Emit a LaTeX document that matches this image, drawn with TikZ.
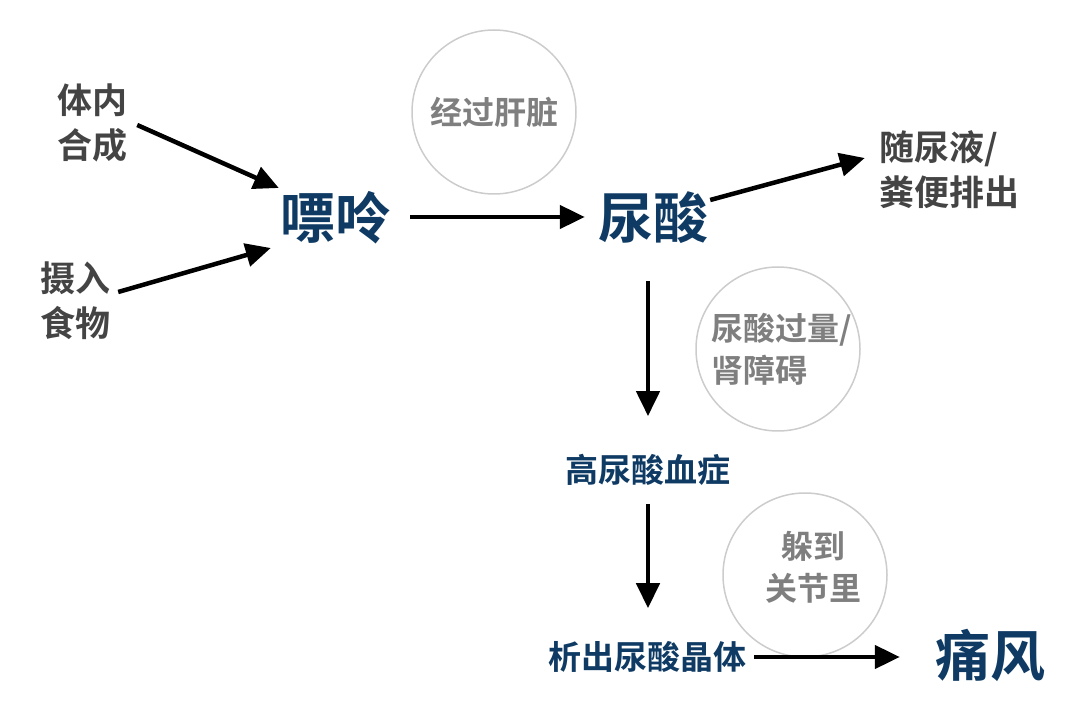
\documentclass[tikz,border=0pt]{standalone}
\usepackage{fontspec}
\setmainfont{Noto Sans CJK SC}[BoldFont={Noto Sans CJK SC Bold}]
\usetikzlibrary{arrows.meta,calc}
\definecolor{navy}{HTML}{0E3A63}
\definecolor{ink}{HTML}{444444}
\definecolor{soft}{HTML}{7F7F7F}
\definecolor{ring}{HTML}{CCCCCC}
\tikzset{
    every node/.append style={font=\bfseries, inner sep=0pt},
    source/.style={text=ink, align=center, font=\bfseries\fontsize{35}{45}\selectfont},
    keyword/.style={text=navy, font=\bfseries\fontsize{55}{60}\selectfont},
    stage/.style={text=navy, font=\bfseries\fontsize{33}{40}\selectfont},
    bubble/.style={circle, draw=ring, line width=1.5pt, minimum size=164pt},
    remark/.style={text=soft, font=\bfseries\fontsize{32}{42}\selectfont},
    flow/.style={line width=4.5pt, -{Triangle[length=25pt,width=23pt]}}
}
\begin{document}
\begin{tikzpicture}[x=1pt,y=-1pt]
\useasboundingbox (0,0) rectangle (1080,719);
% hints in the circles
\node[bubble] (liver) at (494,112) {};
\node[bubble] (kidney) at (778,349) {};
\node[bubble] (joint) at (805,575) {};
\node[remark] at (liver) {经过肝脏};
\node[remark, align=left] at (782,349) {尿酸过量/\\肾障碍};
\node[remark, align=center] at (813,567) {躲到\\关节里};
% the chain
\node[source] (synth) at (92,123) {体内\\合成};
\node[source] (food) at (75,301) {摄入\\食物};
\node[keyword] (purine) at (335,218) {嘌呤};
\node[keyword] (urate) at (653,218) {尿酸};
\node[source, align=left] (excrete) at (949,170) {随尿液/\\粪便排出};
\node[stage] (hyper) at (648,470) {高尿酸血症};
\node[stage] (crystal) at (647,657) {析出尿酸晶体};
\node[keyword] (gout) at (990,655) {痛风};
\draw[flow] ($(synth.east)+(10,2)$) -- ($(purine.west)+(-1,-30)$);
\draw[flow] ($(food.east)+(8,-9)$) -- ($(purine.west)+(-9,30)$);
\draw[flow] ($(purine.east)+(20,-1)$) -- ($(urate.west)+(-13,-1)$);
\draw[flow] ($(urate.east)+(2,-18)$) -- ($(excrete.west)+(-14,-12)$);
\draw[flow] ($(urate.south)+(-5,37)$) -- ($(hyper.north)+(0,-38)$);
\draw[flow] ($(hyper.south)+(0,18)$) -- ($(crystal.north)+(1,-33)$);
\draw[flow] ($(crystal.east)+(8,0)$) -- ($(gout.west)+(-35,2)$);
\end{tikzpicture}
\end{document}
